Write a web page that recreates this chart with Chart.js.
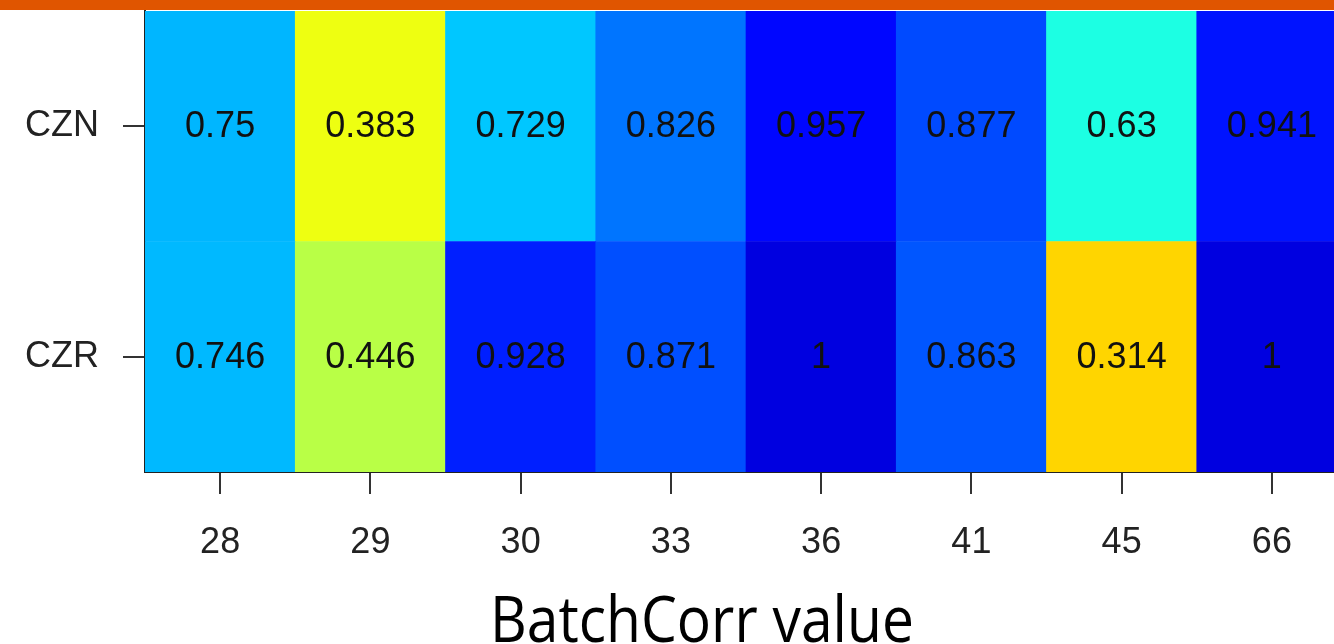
<!DOCTYPE html>
<html>
<head>
<meta charset="utf-8">
<script src="https://cdn.jsdelivr.net/npm/chart.js@4/dist/chart.umd.min.js"></script>
<style>
  html, body { margin: 0; padding: 0; overflow: hidden; background: #fff; }
  #wrap { position: relative; width: 1334px; height: 644px; overflow: hidden; }
  #topbar { position: absolute; left: 0; top: 0; width: 1334px; height: 10px; background: #e05500; z-index: 2; }
  #heat { position: absolute; left: 0; top: 0; }
  #xtitle {
    position: absolute; left: 490px; top: 586px; white-space: nowrap;
    font-family: "Open Sans", sans-serif; font-size: 64px; line-height: 64px; color: #000;
    transform: scaleX(0.89); transform-origin: left top;
  }
</style>
</head>
<body>
<div id="wrap">
  <div id="topbar"></div>
  <canvas id="heat" width="1350" height="644"></canvas>
  <div id="xtitle">BatchCorr value</div>
</div>
<script>
// BatchCorr values per sample, one array per row
const xLabels = ['28', '29', '30', '33', '36', '41', '45', '66'];
const rowLabels = ['CZR', 'CZN'];   // bottom row first
const cznValues = [0.75, 0.383, 0.729, 0.826, 0.957, 0.877, 0.63, 0.941];
const czrValues = [0.746, 0.446, 0.928, 0.871, 1, 0.863, 0.314, 1];
const rows = [czrValues, cznValues];

// jet colour map, high values are blue
function jetColor(v) {
  const t = 0.095 + 0.832 * (1 - v);
  const c = x => Math.round(255 * Math.max(0, Math.min(1, 1.5 - Math.abs(4 * t - x))));
  return 'rgb(' + c(3) + ',' + c(2) + ',' + c(1) + ')';
}

const cellLabels = {
  id: 'cellLabels',
  afterDatasetsDraw(chart) {
    const ctx = chart.ctx;
    ctx.save();
    ctx.font = '36px "Liberation Sans", Arial, sans-serif';
    ctx.fillStyle = '#111';
    ctx.textAlign = 'center';
    ctx.textBaseline = 'middle';
    chart.data.datasets.forEach((ds, di) => {
      chart.getDatasetMeta(di).data.forEach((bar, i) => {
        ctx.fillText(String(ds.values[i]), bar.x, (bar.y + bar.base) / 2 + 1);
      });
    });
    ctx.restore();
  }
};

Chart.defaults.font.family = '"Liberation Sans", Arial, sans-serif';

new Chart(document.getElementById('heat'), {
  type: 'bar',
  data: {
    labels: xLabels,
    datasets: rows.map((vals, r) => ({
      label: rowLabels[r],
      values: vals,
      data: vals.map(() => [r, r + 1]),
      backgroundColor: vals.map(jetColor),
      borderWidth: 0,
      barPercentage: 1,
      categoryPercentage: 1,
      grouped: false
    }))
  },
  options: {
    responsive: false,
    animation: false,
    layout: { padding: { top: 11, right: 3, left: 0, bottom: 0 } },
    plugins: { legend: { display: false }, tooltip: { enabled: false } },
    scales: {
      x: {
        offset: true,
        grid: { offset: false, drawOnChartArea: false, tickLength: 22, color: '#333', lineWidth: 2 },
        border: { display: true, color: '#222', width: 2 },
        ticks: { color: '#222', padding: 27, font: { size: 36 }, maxRotation: 0, autoSkip: false },
        afterFit(scale) { scale.height = 172; scale.paddingLeft = 0; scale.paddingRight = 0; }
      },
      y: {
        min: 0,
        max: 2,
        afterBuildTicks(scale) { scale.ticks = rowLabels.map((l, i) => ({ value: i + 0.5 })); },
        grid: { drawOnChartArea: false, tickLength: 22, color: '#333', lineWidth: 2 },
        border: { display: true, color: '#222', width: 2 },
        ticks: {
          color: '#222', padding: 24, font: { size: 36 },
          callback: v => rowLabels[Math.floor(v)]
        },
        afterFit(scale) { scale.width = 145; scale.paddingTop = 0; scale.paddingBottom = 0; }
      }
    }
  },
  plugins: [cellLabels]
});
</script>
</body>
</html>
